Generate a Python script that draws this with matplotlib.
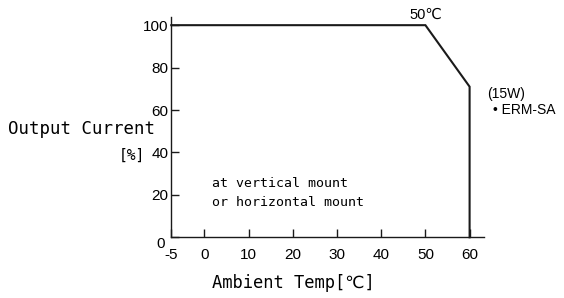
#!/usr/bin/env python3
"""Derating curve: output current vs ambient temperature (ERM-SA 15W)."""

import matplotlib
matplotlib.use('Agg')
import matplotlib.pyplot as plt
import matplotlib.transforms as mtransforms
import numpy as np

# ─── Data ────────────────────────────────────────────────────────────────────

temp = [-5, 50, 60, 60]
current = [100, 100, 71, 0]

x_ticks = [-5, 0, 10, 20, 30, 40, 50, 60]
x_labels = ["-5", "0", "10", "20", "30", "40", "50", "60"]
y_ticks = [0, 20, 40, 60, 80, 100]
y_labels = ["0", "20", "40", "60", "80", "100"]

# ─── Style ───────────────────────────────────────────────────────────────────

SANS = ["Liberation Sans", "DejaVu Sans", "Noto Sans CJK JP"]
MONO = ["DejaVu Sans Mono", "DejaVu Sans", "Noto Sans CJK JP"]


# the -5..0 stretch of the axis is drawn wider than the rest
def fwd(x):
    x = np.asarray(x, dtype=float)
    return np.where(x < 0, x * 1.5, x)


def inv(x):
    x = np.asarray(x, dtype=float)
    return np.where(x < 0, x / 1.5, x)


def main():
    fig = plt.figure(figsize=(5.64, 2.98), dpi=100)
    fig.patch.set_facecolor("white")
    ax = fig.add_axes([0.3037, 0.2037, 0.554, 0.7403])

    ax.set_xscale("function", functions=(fwd, inv))
    ax.set_xlim(-5, 63.2)
    ax.set_ylim(0, 104)

    ax.plot(temp, current, color="#1a1a1a", lw=1.5, solid_joinstyle="miter",
            clip_on=False, zorder=3)

    for s in ("top", "right"):
        ax.spines[s].set_visible(False)
    for s in ("left", "bottom"):
        ax.spines[s].set_linewidth(1.0)
        ax.spines[s].set_color("#1a1a1a")

    ax.set_xticks(x_ticks)
    ax.set_xticklabels(x_labels, family=SANS, fontsize=11)
    ax.set_yticks(y_ticks)
    ax.set_yticklabels(y_labels, family=SANS, fontsize=11)
    ax.minorticks_off()
    ax.tick_params(axis="x", direction="in", length=6, width=1, pad=8, color="#1a1a1a")
    ax.tick_params(axis="y", direction="in", length=6, width=1, pad=2, color="#1a1a1a")

    # the "0" on the y axis sits a little lower and left
    zero = ax.get_yticklabels()[0]
    zero.set_transform(zero.get_transform() +
                       mtransforms.ScaledTranslation(-0.04, -0.05, fig.dpi_scale_trans))

    ax.annotate("50℃", xy=(50, 100), xytext=(0, 2.5), textcoords="offset points",
                ha="center", va="bottom", family=SANS, fontsize=10.5,
                annotation_clip=False)

    ax.text(63.9, 67.5, "(15W)", ha="left", va="center", family=SANS,
            fontsize=10, clip_on=False)
    ax.text(65.3, 60.0, "• ERM-SA", ha="left", va="center", family=SANS,
            fontsize=10, clip_on=False)

    ax.text(1.6, 25.4, "at vertical mount", ha="left", va="center",
            family=MONO, fontsize=9.5)
    ax.text(1.6, 16.5, "or horizontal mount", ha="left", va="center",
            family=MONO, fontsize=9.5)

    fig.text(8 / 564, 1 - 129 / 298, "Output Current", ha="left", va="center",
             family=MONO, fontsize=12.5)
    fig.text(145 / 564, 1 - 155 / 298, "[%]", ha="right", va="center",
             family=MONO, fontsize=10.5)
    fig.text(211.7 / 564, 1 - 283.5 / 298, "Ambient Temp[℃]", ha="left", va="center",
             family=MONO, fontsize=12.3)

    fig.savefig("out.png", dpi=100, facecolor="white")
    plt.close(fig)


if __name__ == "__main__":
    main()
